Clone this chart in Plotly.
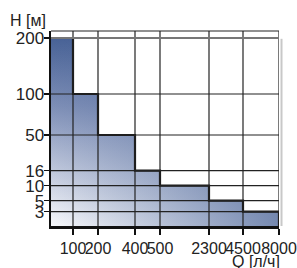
import numpy as np
import plotly.graph_objects as go

# ---------------- data ----------------
q_edges = [0, 100, 200, 400, 500, 2300, 4500, 8000]      # Q [л/ч], step boundaries
h_values = [200, 100, 50, 16, 10, 5, 3]                  # H [м] for each step
x_tick_values = [100, 200, 400, 500, 2300, 4500, 8000]
x_tick_labels = ["100", "200", "400", "500", "2300", "4500", "8000"]
y_tick_values = [3, 5, 10, 16, 50, 100, 200]
y_tick_labels = ["3", "5", "10", "16", "50", "100", "200"]

# ---------------- custom (non-uniform) scales of the original drawing ----------------
X_SCALE_DOMAIN = [0, 100, 200, 400, 500, 2300, 4500, 8000]
X_SCALE_RANGE = [0, 22, 47, 84, 109, 158, 192, 228]
Y_SCALE_DOMAIN = [0, 3, 5, 10, 16, 50, 100, 200]
Y_SCALE_RANGE = [0, 14.3, 25.3, 40.3, 55.3, 91, 132, 188]
X_MAX, Y_MAX = 228, 195


def sx(v):
    return np.interp(v, X_SCALE_DOMAIN, X_SCALE_RANGE).tolist()


def sy(v):
    return np.interp(v, Y_SCALE_DOMAIN, Y_SCALE_RANGE).tolist()


# step polygon
step_x, step_y = [], []
for i, h in enumerate(h_values):
    step_x += [q_edges[i], q_edges[i + 1]]
    step_y += [h, h]
poly_x = [q_edges[0]] + step_x + [q_edges[-1], q_edges[0]]
poly_y = [0] + step_y + [0, 0]

FONT = "Liberation Sans, Arial, sans-serif"
NARROW = "Liberation Sans Narrow, Arial Narrow, Liberation Sans, Arial, sans-serif"
DARK = "72,98,150"

fig = go.Figure()

# vertical gradient (light bottom -> dark top)
fig.add_trace(go.Scatter(
    x=sx(poly_x), y=sy(poly_y), mode="lines", line=dict(width=0),
    fill="toself", hoverinfo="skip", showlegend=False,
    fillgradient=dict(type="vertical", start=0, stop=sy(max(h_values)),
                      colorscale=[[0, "rgb(248,249,252)"], [0.64, "rgb(125,142,182)"],
                                  [1, f"rgb({DARK})"]]),
))
# horizontal overlay (transparent left -> blue right)
fig.add_trace(go.Scatter(
    x=sx(poly_x), y=sy(poly_y), mode="lines", line=dict(width=0),
    fill="toself", hoverinfo="skip", showlegend=False,
    fillgradient=dict(type="horizontal", start=0, stop=X_MAX,
                      colorscale=[[0, f"rgba({DARK},0)"], [1, f"rgba({DARK},0.74)"]]),
))
# outline of steps
fig.add_trace(go.Scatter(
    x=sx(step_x + [q_edges[-1]]), y=sy(step_y + [0]), mode="lines",
    line=dict(color="#1a1a1a", width=2.2), hoverinfo="skip", showlegend=False,
))

shapes = []
for xv in x_tick_values:
    shapes.append(dict(type="line", xref="x", yref="paper", x0=sx(xv), x1=sx(xv),
                       y0=0, y1=1, line=dict(color="#222", width=1.2), layer="above"))
for yv in y_tick_values:
    col, w = ("#777", 2) if yv == 200 else ("#222", 1.2)
    shapes.append(dict(type="line", xref="paper", yref="y", x0=0, x1=1,
                       y0=sy(yv), y1=sy(yv), line=dict(color=col, width=w), layer="above"))
# top border and right shadow
shapes.append(dict(type="line", xref="paper", yref="paper", x0=0, x1=1, y0=1, y1=1,
                   line=dict(color="#222", width=1.2), layer="above"))
shapes.append(dict(type="line", xref="paper", yref="paper", x0=1.011, x1=1.011, y0=0, y1=0.96,
                   line=dict(color="#c8c8c8", width=2), layer="above"))

fig.update_layout(
    width=297, height=268,
    margin=dict(l=51, r=18, t=31, b=42, autoexpand=False),
    paper_bgcolor="white", plot_bgcolor="white",
    font=dict(family=FONT, size=16, color="#222"),
    shapes=shapes,
    xaxis=dict(range=[0, X_MAX], tickvals=sx(x_tick_values), ticktext=x_tick_labels,
               tickangle=0, automargin=False,
               showgrid=False, zeroline=False, showline=True, linecolor="#111", linewidth=3,
               ticks="outside", ticklen=6, tickwidth=1.5, tickcolor="#111",
               tickfont=dict(family=NARROW, size=16, color="#222"), fixedrange=True),
    yaxis=dict(range=[0, Y_MAX], tickvals=sy(y_tick_values), ticktext=y_tick_labels,
               automargin=False, ticklabelstandoff=-4,
               showgrid=False, zeroline=False, showline=True, linecolor="#111", linewidth=2.5,
               ticks="outside", ticklen=5, tickwidth=1.5, tickcolor="#111",
               tickfont=dict(family=FONT, size=17, color="#222"), fixedrange=True),
    annotations=[
        dict(text="H [м]", xref="paper", yref="paper", x=-0.013, y=1.056,
             xanchor="right", yanchor="middle", showarrow=False,
             font=dict(family=FONT, size=16, color="#222")),
        dict(text="Q [л/ч]", xref="paper", yref="paper", x=1.011, y=-0.18,
             xanchor="right", yanchor="middle", showarrow=False,
             font=dict(family=FONT, size=16, color="#222")),
    ],
)

fig.write_html("out.html", config={"displayModeBar": False, "staticPlot": True},
               post_script="document.body.style.margin='0';")
